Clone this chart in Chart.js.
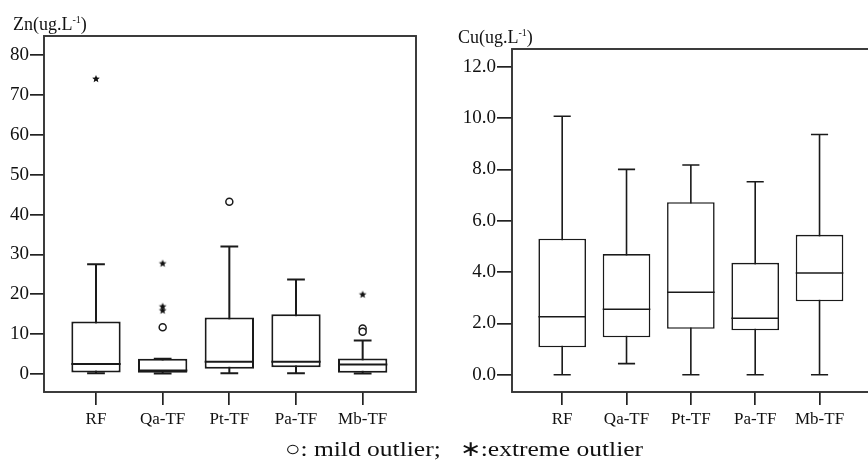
<!DOCTYPE html>
<html>
<head>
<meta charset="utf-8">
<script src="https://cdn.jsdelivr.net/npm/chart.js@4.4.1/dist/chart.umd.min.js"></script>
<style>
  html, body { margin: 0; padding: 0; background: #fff; width: 868px; height: 471px; overflow: hidden; position: relative; }
  canvas { position: absolute; top: 0; }
  .lbl { position: absolute; font-family: 'Liberation Serif', serif; font-size: 18px; color: #111; line-height: 1; white-space: nowrap; }
  .lbl sup { font-size: 10px; }
  .note { font-size: 22px; transform: scaleX(1.16); transform-origin: left center; }
</style>
</head>
<body>
<canvas id="znChart" width="430" height="471" style="left:0"></canvas>
<canvas id="cuChart" width="500" height="471" style="left:430px"></canvas>
<div class="lbl" style="left:13px; top:15px">Zn(ug.L<sup>-1</sup>)</div>
<div class="lbl" style="left:458px; top:28px">Cu(ug.L<sup>-1</sup>)</div>
<div class="lbl note" style="left:285px; top:438px">○: mild outlier;&nbsp;&nbsp; ∗:extreme outlier</div>
<script>
// Categories shared by both panels
const categories = ['RF', 'Qa-TF', 'Pt-TF', 'Pa-TF', 'Mb-TF'];

// Zn (ug/L)
const znWhiskerLow = [0.2, 0.1, 0.2, 0.2, 0.1];
const znQ1 = [0.4, 0.3, 1.3, 1.7, 0.3];
const znMedian = [2.5, 0.9, 3.1, 3.1, 2.4];
const znQ3 = [13.2, 3.8, 14.2, 15.0, 3.9];
const znWhiskerHigh = [27.5, 3.8, 32.0, 23.7, 8.4];
const znMild = [[], [11.7], [43.2], [], [11.4, 10.6]];
const znExtreme = [[74.0], [27.7, 16.9, 15.9], [], [], [19.9]];
const znTicks = [0, 10, 20, 30, 40, 50, 60, 70, 80];

// Cu (ug/L)
const cuWhiskerLow = [0.0, 0.43, 0.0, 0.0, 0.0];
const cuQ1 = [1.07, 1.46, 1.79, 1.73, 2.86];
const cuMedian = [2.26, 2.55, 3.21, 2.20, 3.96];
const cuQ3 = [5.30, 4.70, 6.72, 4.36, 5.45];
const cuWhiskerHigh = [10.07, 8.0, 8.17, 7.52, 9.36];
const cuTicks = [0, 2, 4, 6, 8, 10, 12];

// small filled star used for extreme outliers
function makeStar(r) {
    const c = document.createElement('canvas');
    c.width = c.height = Math.ceil(r * 2 + 2);
    const g = c.getContext('2d');
    const cx = c.width / 2, cy = c.height / 2;
    g.beginPath();
    for (let i = 0; i < 10; i++) {
        const rad = i % 2 === 0 ? r : r * 0.45;
        const a = -Math.PI / 2 + i * Math.PI / 5;
        g.lineTo(cx + rad * Math.cos(a), cy + rad * Math.sin(a));
    }
    g.closePath();
    g.fillStyle = '#111';
    g.fill();
    return c;
}
const starImg = makeStar(4);

function toPoints(groups) {
    return groups.flatMap((arr, i) => arr.map(v => ({ x: i + 1, y: v })));
}

// whiskers, medians and the frame, all placed through the chart scales
const boxExtras = {
    id: 'boxExtras',
    beforeDatasetsDraw(chart, args, opts) {
        const ctx = chart.ctx;
        const y = chart.scales.y;
        const bars = chart.getDatasetMeta(0).data;
        ctx.save();
        ctx.strokeStyle = '#1a1a1a';
        ctx.lineWidth = opts.lineWidth;
        bars.forEach((bar, i) => {
            const cap = bar.width * 0.18;
            const lo = y.getPixelForValue(opts.low[i]);
            const hi = y.getPixelForValue(opts.high[i]);
            ctx.beginPath();
            ctx.moveTo(bar.x, lo); ctx.lineTo(bar.x, hi);
            ctx.moveTo(bar.x - cap, lo); ctx.lineTo(bar.x + cap, lo);
            ctx.moveTo(bar.x - cap, hi); ctx.lineTo(bar.x + cap, hi);
            ctx.stroke();
        });
        ctx.restore();
    },
    afterDatasetsDraw(chart, args, opts) {
        const ctx = chart.ctx;
        const y = chart.scales.y;
        const bars = chart.getDatasetMeta(0).data;
        const area = chart.chartArea;
        ctx.save();
        ctx.strokeStyle = '#1a1a1a';
        ctx.lineWidth = opts.lineWidth;
        bars.forEach((bar, i) => {
            const m = y.getPixelForValue(opts.median[i]);
            ctx.beginPath();
            ctx.moveTo(bar.x - bar.width / 2, m);
            ctx.lineTo(bar.x + bar.width / 2, m);
            ctx.stroke();
        });
        ctx.strokeStyle = '#333';
        ctx.lineWidth = opts.frameWidth;
        ctx.strokeRect(area.left, area.top, area.right - area.left, area.bottom - area.top);
        ctx.restore();
    }
};

function makeBoxChart(id, s) {
    const xFont = { family: "'Liberation Serif', serif", size: 17 };
    const yFont = { family: "'Liberation Serif', serif", size: 19 };
    const boxData = categories.map((c, i) => ({ x: i + 1, y: [s.q1[i], s.q3[i]] }));
    const datasets = [{
        type: 'bar',
        data: boxData,
        backgroundColor: '#fff',
        borderColor: '#1a1a1a',
        borderWidth: s.lineWidth,
        borderSkipped: false,
        barPercentage: 0.74,
        categoryPercentage: 1.0
    }];
    if (s.mild) {
        datasets.push({
            type: 'scatter',
            data: toPoints(s.mild),
            pointStyle: 'circle',
            radius: 3.5,
            borderWidth: 1.5,
            borderColor: '#1a1a1a',
            backgroundColor: '#fff'
        });
        datasets.push({
            type: 'scatter',
            data: toPoints(s.extreme),
            pointStyle: starImg
        });
    }

    new Chart(document.getElementById(id), {
        type: 'bar',
        data: { datasets: datasets },
        options: {
            responsive: false,
            animation: false,
            layout: { padding: s.padding },
            plugins: {
                legend: { display: false },
                tooltip: { enabled: false },
                boxExtras: {
                    low: s.low, high: s.high, median: s.median,
                    lineWidth: s.lineWidth, frameWidth: 1.9
                }
            },
            scales: {
                x: {
                    type: 'linear',
                    min: 0.22, max: 5.8,
                    offset: false,
                    afterFit: (scale) => { scale.height = s.xAxisHeight; },
                    afterBuildTicks: (scale) => { scale.ticks = categories.map((c, i) => ({ value: i + 1 })); },
                    grid: { offset: false, drawOnChartArea: false, drawTicks: true, tickLength: 13, color: '#222', lineWidth: 1.7 },
                    border: { display: false },
                    ticks: { font: xFont, color: '#111', padding: 4, maxRotation: 0, autoSkip: false,
                             callback: (v) => categories[v - 1] }
                },
                y: {
                    min: s.yMin, max: s.yMax,
                    afterFit: (scale) => { scale.width = s.yAxisWidth; },
                    afterBuildTicks: (scale) => { scale.ticks = s.ticks.map(v => ({ value: v })); },
                    grid: { drawOnChartArea: false, drawTicks: true, tickLength: s.tickLength, color: '#222', lineWidth: 1.7 },
                    border: { display: false },
                    ticks: { font: yFont, color: '#111', padding: 1,
                             callback: (v) => s.decimals ? v.toFixed(1) : String(v) }
                }
            }
        },
        plugins: [boxExtras]
    });
}

document.addEventListener('DOMContentLoaded', () => {
    makeBoxChart('znChart', {
        q1: znQ1, q3: znQ3, median: znMedian, low: znWhiskerLow, high: znWhiskerHigh,
        mild: znMild, extreme: znExtreme, ticks: znTicks,
        yMin: -4.51, yMax: 84.77, decimals: false,
        lineWidth: 2, tickLength: 14,
        yAxisWidth: 44, xAxisHeight: 79,
        padding: { top: 36, right: 14, left: 0, bottom: 0 }
    });
    makeBoxChart('cuChart', {
        q1: cuQ1, q3: cuQ3, median: cuMedian, low: cuWhiskerLow, high: cuWhiskerHigh,
        ticks: cuTicks,
        yMin: -0.674, yMax: 12.69, decimals: true,
        lineWidth: 1.6, tickLength: 15,
        yAxisWidth: 82, xAxisHeight: 79,
        padding: { top: 49, right: 59, left: 0, bottom: 0 }
    });
});
</script>
</body>
</html>
